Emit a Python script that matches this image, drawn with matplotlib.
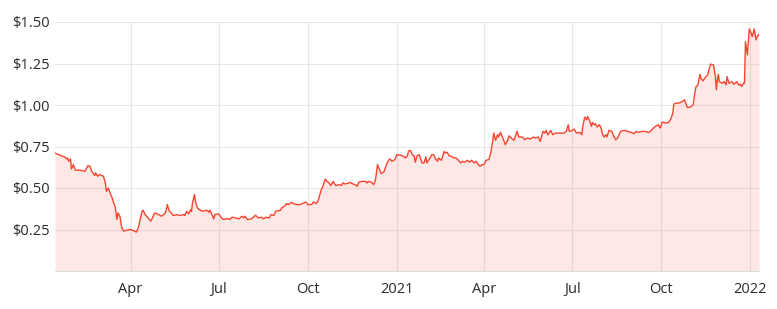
import matplotlib
matplotlib.use("Agg")
import matplotlib.pyplot as plt
import matplotlib.dates as mdates
import matplotlib.ticker as mticker
import pandas as pd

start_date = "2020-01-14"

days = [
    0, 5, 10, 12, 13, 14, 16, 17, 19, 21, 26, 31, 34, 36, 38, 41, 42, 44, 46, 48,
    50, 52, 53, 55, 57, 59, 60, 62, 64, 65, 67, 69, 71, 74, 78, 81, 84, 86, 88, 90,
    91, 93, 96, 99,
    103, 107, 110, 114, 116, 118, 120, 122, 126, 129, 133, 134, 136, 138, 140, 141,
    142, 144, 145, 147, 150, 153, 157, 159, 160, 162, 164, 165, 169, 172, 174, 178,
    180, 183, 186, 190, 193, 195, 196, 199, 203,
    207, 210, 213, 215, 218, 221, 223, 226, 228, 233, 234, 237, 239, 241, 244, 246,
    250, 253, 257, 259, 261, 265, 267, 270, 272, 275, 277, 279, 281, 283, 285, 287,
    290, 293, 296, 297, 300, 303, 305, 307,
    310, 312, 314, 317, 321, 322, 324, 327, 329, 331, 333, 335, 337, 340, 341, 343,
    345, 346, 348, 351, 353, 357, 360, 362, 364, 365, 367, 369, 371, 372, 374, 376,
    377, 379, 381, 383, 384, 386, 388, 389, 391, 393, 395, 396, 399, 402, 403, 405,
    407, 409, 412,
    414, 416, 419, 421, 423, 426, 428, 430, 433, 435, 437, 439, 441, 443, 445, 448,
    450, 452, 453, 455, 457, 458, 460, 462, 465, 467, 469, 471, 474, 476, 477, 479,
    483, 485, 488, 491, 494, 496, 499, 501, 504, 506, 507, 509, 512, 514,
    517, 520, 526, 528, 530, 531, 534, 536, 538, 539, 542, 544, 545, 547, 549, 550,
    552, 554, 555, 557, 558, 560, 562, 564, 565, 567, 569, 570, 572, 575, 577, 579,
    581, 584, 588, 591, 595, 598, 600, 602, 606, 609, 613, 615, 617,
    620, 623, 625, 627, 631, 634, 636, 638, 639, 641, 644, 647, 650, 651, 653, 656,
    659, 661, 662, 664, 666, 667, 669, 671, 674, 675, 677, 680, 682, 683, 684, 685,
    686, 689, 691, 693, 694, 696, 699, 701, 704, 706, 708, 709, 711, 712, 713, 715,
    717, 719, 720, 722, 724, 725, 727,
]

prices = [
    0.711, 0.697, 0.687, 0.675, 0.681, 0.661, 0.675, 0.615, 0.641, 0.607, 0.607, 0.601,
    0.635, 0.631, 0.601, 0.575, 0.591, 0.571, 0.581, 0.575, 0.571, 0.530, 0.480, 0.500,
    0.470, 0.440, 0.420, 0.390, 0.310, 0.350, 0.330, 0.260, 0.240, 0.246, 0.250, 0.244,
    0.234, 0.260, 0.310, 0.360, 0.366, 0.340, 0.320, 0.300,
    0.350, 0.340, 0.330, 0.350, 0.400, 0.360, 0.350, 0.334, 0.340, 0.334, 0.340, 0.334,
    0.360, 0.344, 0.370, 0.360, 0.410, 0.460, 0.420, 0.380, 0.366, 0.360, 0.366, 0.354,
    0.366, 0.340, 0.314, 0.340, 0.344, 0.320, 0.310, 0.316, 0.310, 0.324, 0.320, 0.314,
    0.330, 0.320, 0.330, 0.310, 0.314,
    0.336, 0.320, 0.324, 0.314, 0.324, 0.320, 0.340, 0.334, 0.360, 0.366, 0.380, 0.390,
    0.406, 0.400, 0.414, 0.406, 0.400, 0.400, 0.410, 0.416, 0.400, 0.400, 0.416, 0.406,
    0.430, 0.490, 0.514, 0.554, 0.540, 0.530, 0.514, 0.540, 0.514, 0.520, 0.516, 0.530,
    0.524, 0.530, 0.534, 0.526,
    0.520, 0.510, 0.536, 0.540, 0.540, 0.530, 0.540, 0.534, 0.520, 0.550, 0.641, 0.611,
    0.586, 0.600, 0.620, 0.651, 0.671, 0.675, 0.661, 0.671, 0.701, 0.697, 0.691, 0.681,
    0.695, 0.721, 0.727, 0.701, 0.691, 0.655, 0.695, 0.701, 0.687, 0.651, 0.651, 0.687,
    0.651, 0.671, 0.687, 0.701, 0.701, 0.675, 0.661, 0.681, 0.667, 0.721, 0.711, 0.715,
    0.695, 0.691, 0.681,
    0.681, 0.671, 0.651, 0.661, 0.655, 0.667, 0.655, 0.667, 0.651, 0.661, 0.641, 0.631,
    0.641, 0.641, 0.667, 0.671, 0.711, 0.781, 0.831, 0.787, 0.821, 0.807, 0.835, 0.807,
    0.761, 0.781, 0.815, 0.801, 0.787, 0.821, 0.841, 0.807, 0.807, 0.791, 0.801, 0.795,
    0.807, 0.801, 0.807, 0.781, 0.841, 0.831, 0.847, 0.821, 0.847, 0.821,
    0.831, 0.831, 0.831, 0.841, 0.881, 0.841, 0.847, 0.855, 0.835, 0.831, 0.835, 0.821,
    0.871, 0.927, 0.911, 0.931, 0.907, 0.871, 0.895, 0.881, 0.887, 0.867, 0.881, 0.861,
    0.831, 0.807, 0.821, 0.807, 0.847, 0.841, 0.811, 0.791, 0.801, 0.841, 0.847, 0.841,
    0.835, 0.827, 0.841, 0.835, 0.841, 0.841, 0.835, 0.841, 0.855,
    0.871, 0.881, 0.861, 0.897, 0.891, 0.897, 0.917, 0.951, 1.005, 1.011, 1.011, 1.017,
    1.031, 1.017, 0.985, 0.987, 1.001, 1.081, 1.111, 1.121, 1.185, 1.161, 1.145, 1.161,
    1.181, 1.205, 1.246, 1.242, 1.171, 1.091, 1.151, 1.185, 1.141, 1.131, 1.141, 1.121,
    1.171, 1.131, 1.141, 1.125, 1.141, 1.121, 1.125, 1.111, 1.131, 1.131, 1.382, 1.302,
    1.458, 1.432, 1.412, 1.458, 1.392, 1.412, 1.426,
]

y_ticks = [0.25, 0.50, 0.75, 1.00, 1.25, 1.50]

dates = pd.to_datetime(start_date) + pd.to_timedelta(days, unit="D")

line_color = "#f8432f"
text_color = "#2a2a2a"
grid_color = "#e8e8e8"

plt.rcParams["font.family"] = ["Open Sans", "DejaVu Sans"]

fig = plt.figure(figsize=(7.77, 3.09), dpi=100)
ax = fig.add_axes([55 / 777, 38 / 309, (759 - 55) / 777, (271 - 22) / 309])

ax.fill_between(dates, prices, 0, color=line_color, alpha=0.12, linewidth=0)
ax.plot(dates, prices, color=line_color, linewidth=1.0)

ax.set_xlim(dates[0], dates[-1])
ax.set_ylim(0, 1.5)

ax.set_yticks(y_ticks)
ax.yaxis.set_major_formatter(mticker.FuncFormatter(lambda v, p: f"${v:.2f}"))

ax.xaxis.set_major_locator(mdates.MonthLocator(bymonth=[1, 4, 7, 10]))
ax.xaxis.set_major_formatter(
    mticker.FuncFormatter(
        lambda v, p: (mdates.num2date(v).strftime("%Y")
                      if mdates.num2date(v).month == 1
                      else mdates.num2date(v).strftime("%b"))
    )
)

ax.grid(True, color=grid_color, linewidth=0.8)
ax.set_axisbelow(True)
for side in ["top", "right", "left"]:
    ax.spines[side].set_visible(False)
ax.spines["bottom"].set_color("#dddddd")
ax.spines["bottom"].set_linewidth(0.8)

ax.tick_params(axis="both", length=0, labelsize=10.5, colors=text_color)
ax.tick_params(axis="y", pad=4)
ax.tick_params(axis="x", pad=8)

fig.savefig("out.png", dpi=100, facecolor="white")
